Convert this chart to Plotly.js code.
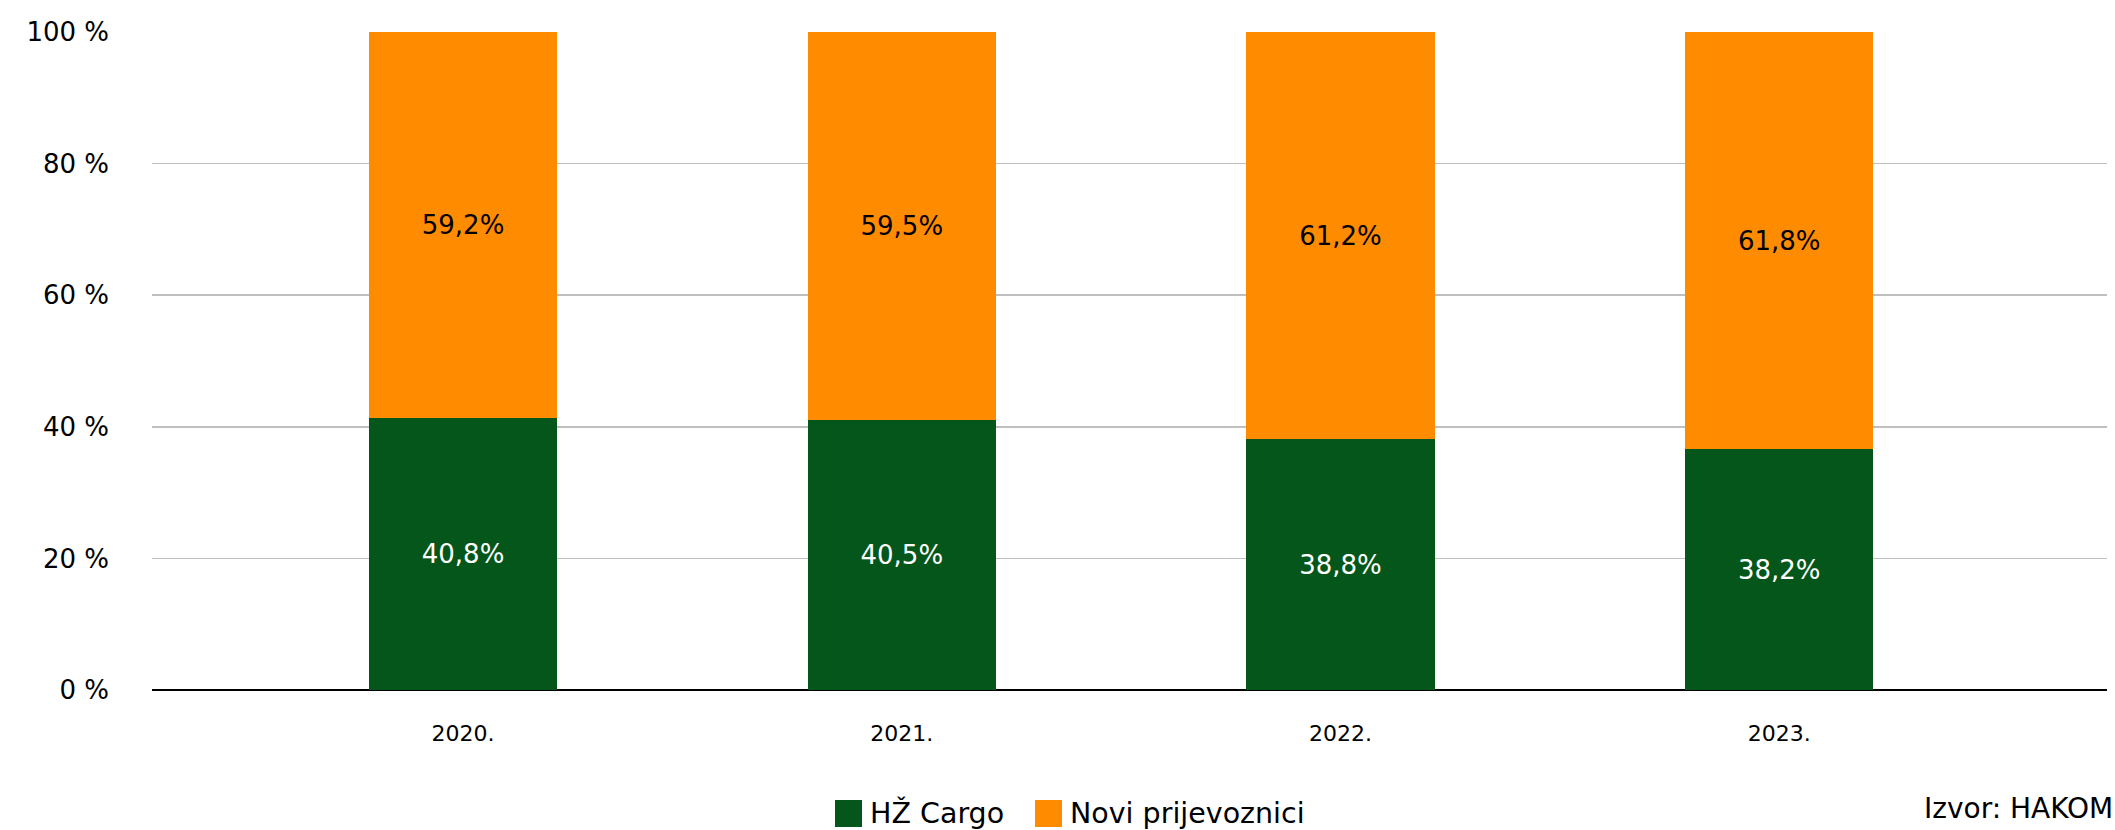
<!DOCTYPE html>
<html>
<head>
<meta charset="utf-8">
<script src="https://cdn.plot.ly/plotly-3.0.1.min.js"></script>
<style>html,body{margin:0;padding:0;background:#fff;}#chart{width:2115px;height:830px;}</style>
</head>
<body>
<div id="chart"></div>
<script>
const categories = ['2020.', '2021.', '2022.', '2023.'];
const seriesNames = ['HŽ Cargo', 'Novi prijevoznici'];
const hzCargo = [41.3, 41.0, 38.1, 36.6];
const noviPrijevoznici = [58.7, 59.0, 61.9, 63.4];
const hzLabels = ['40,8%', '40,5%', '38,8%', '38,2%'];
const noviLabels = ['59,2%', '59,5%', '61,2%', '61,8%'];
const yTicks = [0, 20, 40, 60, 80, 100];
const yTickText = ['0 %', '20 %', '40 %', '60 %', '80 %', '100 %'];
const sourceText = 'Izvor: HAKOM';

const colors = ['#04561A', '#FF8C00'];
const FONT = 'DejaVu Sans, sans-serif';

const traces = [
  {
    type: 'bar', name: seriesNames[0], x: categories, y: hzCargo,
    text: hzLabels, texttemplate: '%{text}', textposition: 'inside', insidetextanchor: 'middle',
    textangle: 0, constraintext: 'none',
    textfont: {family: FONT, size: 26, color: '#ffffff'},
    marker: {color: colors[0]}, hoverinfo: 'skip', showlegend: false
  },
  {
    type: 'bar', name: seriesNames[1], x: categories, y: noviPrijevoznici,
    text: noviLabels, texttemplate: '%{text}', textposition: 'inside', insidetextanchor: 'middle',
    textangle: 0, constraintext: 'none',
    textfont: {family: FONT, size: 26, color: '#000000'},
    marker: {color: colors[1]}, hoverinfo: 'skip', showlegend: false
  }
];

const shapes = [];
const annotations = [];
// legend (drawn as layout decoration)
const legendX = [835, 1035];
seriesNames.forEach((n, i) => {
  shapes.push({type: 'rect', xref: 'paper', yref: 'paper',
    x0: (legendX[i] - 152) / 1955, x1: (legendX[i] + 27 - 152) / 1955,
    y0: (690 - 827) / 658, y1: (690 - 800) / 658,
    fillcolor: colors[i], line: {width: 0}});
  annotations.push({xref: 'paper', yref: 'paper', x: (legendX[i] + 33 - 152) / 1955,
    y: (690 - 813) / 658, xanchor: 'left', yanchor: 'middle', showarrow: false,
    text: n, font: {family: FONT, size: 28.5, color: '#000'}});
});
annotations.push({xref: 'paper', yref: 'paper', x: 1.004, y: (690 - 808) / 658,
  xanchor: 'right', yanchor: 'middle', showarrow: false, text: sourceText,
  font: {family: FONT, size: 28, color: '#000'}});

const layout = {
  width: 2115, height: 830,
  margin: {l: 152, r: 8, t: 32, b: 140},
  paper_bgcolor: '#fff', plot_bgcolor: '#fff',
  barmode: 'stack', bargap: 0.571,
  showlegend: false,
  xaxis: {
    type: 'category', range: [-0.709, 3.747],
    showgrid: false, zeroline: false, showline: false,
    ticks: '', ticklabelstandoff: 28,
    tickfont: {family: FONT, size: 22, color: '#000'}
  },
  yaxis: {
    range: [0, 100], tickmode: 'array', tickvals: yTicks, ticktext: yTickText,
    showgrid: true, gridcolor: '#BFBFBF', gridwidth: 1.5,
    zeroline: true, zerolinecolor: '#000', zerolinewidth: 2,
    showline: false, ticks: '', ticklabelstandoff: 42,
    tickfont: {family: FONT, size: 26, color: '#000'}
  },
  shapes: shapes,
  annotations: annotations
};

Plotly.newPlot('chart', traces, layout, {displayModeBar: false, staticPlot: true});
</script>
</body>
</html>
